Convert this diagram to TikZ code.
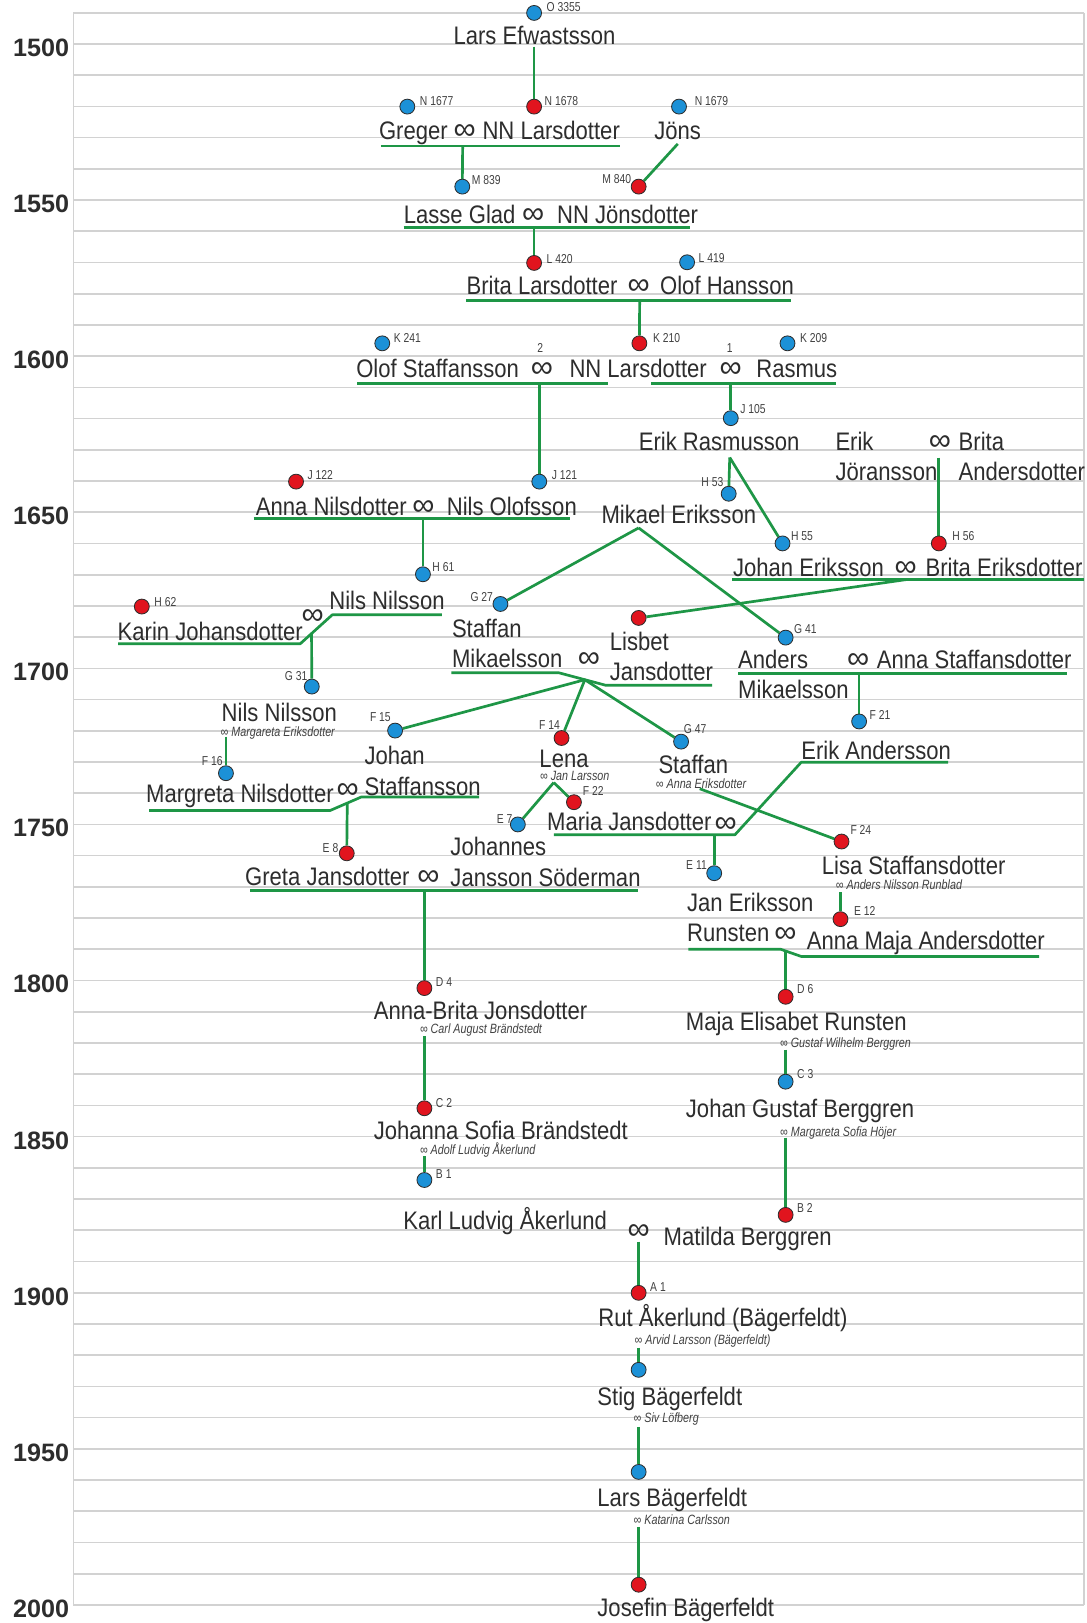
\documentclass[tikz,border=0pt]{standalone}
\usepackage{fontspec}
\setmainfont{Liberation Sans}
\newfontfamily\nmfont[FakeStretch=0.87]{Liberation Sans}
\newfontfamily\smfont[FakeStretch=0.8]{Liberation Sans}
\newfontfamily\symfont{Liberation Sans}
\usetikzlibrary{calc}
\pgfdeclarelayer{bg}
\pgfsetlayers{bg,main}
\definecolor{lnk}{RGB}{30,150,70}
\definecolor{pblue}{RGB}{28,145,215}
\definecolor{pred}{RGB}{225,20,30}
\definecolor{ink}{RGB}{45,45,45}
\definecolor{ink2}{RGB}{65,65,65}
\definecolor{gridc}{RGB}{210,210,210}
\tikzset{
  pname/.style={anchor=base west, inner sep=0pt, text=ink, font=\nmfont\fontsize{24.5}{28}\selectfont},
  pnote/.style={anchor=base west, inner sep=0pt, text=ink2, font=\smfont\itshape\fontsize{13}{15}\selectfont},
  ptag/.style={inner sep=0pt, text=ink2, font=\smfont\fontsize{12.5}{14}\selectfont},
  marr/.style={anchor=base, inner sep=0pt, text=ink, font=\symfont\fontsize{30}{32}\selectfont},
  yrlabel/.style={anchor=base east, inner sep=0pt, text=ink, font=\bfseries\fontsize{24.3}{28}\selectfont},
  pdot/.style={circle, draw=ink, line width=0.8pt, minimum size=14.4pt, inner sep=0pt},
  boy/.style={pdot, fill=pblue},
  girl/.style={pdot, fill=pred},
  descent/.style={draw=lnk, line width=2.6pt, line join=round},
  gridl/.style={draw=gridc, line width=1.6pt},
}
\begin{document}
\begin{tikzpicture}[x=1pt, y=-1pt]
\useasboundingbox (0,0) rectangle (1050,1568);

% year labels
\foreach \Y in {1500,1550,...,2000}
  \node[yrlabel] (yr\Y) at (67,{42.5+3.016*(\Y-1500)+12}) {\Y};

% persons
\node[boy]  (O3355) at (516,12.5) {};
\node[boy]  (N1677) at (393.5,103) {};
\node[girl] (N1678) at (516,103) {};
\node[boy]  (N1679) at (656,103) {};
\node[boy]  (M839) at (446.6,180.3) {};
\node[girl] (M840) at (617,180.3) {};
\node[girl] (L420) at (516,254) {};
\node[boy]  (L419) at (663.8,253.4) {};
\node[boy]  (K241) at (369.3,331.7) {};
\node[girl] (K210) at (617.7,331.7) {};
\node[boy]  (K209) at (760.8,331.7) {};
\node[boy]  (J105) at (706,404) {};
\node[girl] (J122) at (286,465.3) {};
\node[boy]  (J121) at (521,465.3) {};
\node[boy]  (H53) at (704,477) {};
\node[boy]  (H55) at (756,525) {};
\node[girl] (H56) at (907,525) {};
\node[boy]  (H61) at (408.6,554.8) {};
\node[girl] (H62) at (137,586) {};
\node[boy]  (G27) at (483.5,583.5) {};
\node[girl] (LIS) at (617,597) {};
\node[boy]  (G41) at (759,616) {};
\node[boy]  (G31) at (301.2,663.3) {};
\node[boy]  (F21) at (830,697) {};
\node[boy]  (F15) at (381.7,705.8) {};
\node[girl] (F14) at (542.5,713) {};
\node[boy]  (G47) at (658,716.5) {};
\node[boy]  (F16) at (218.3,747) {};
\node[girl] (F22) at (554.5,775) {};
\node[boy]  (E7) at (500.3,796.5) {};
\node[girl] (F24) at (813,813) {};
\node[girl] (E8) at (335,824.4) {};
\node[boy]  (E11) at (690,843.6) {};
\node[girl] (E12) at (812,888) {};
\node[girl] (D4) at (410,954.6) {};
\node[girl] (D6) at (759,963) {};
\node[boy]  (C3) at (759,1045) {};
\node[girl] (C2) at (410,1070.7) {};
\node[boy]  (B1) at (410,1140) {};
\node[girl] (B2) at (759,1173.7) {};
\node[girl] (A1) at (617,1249) {};
\node[boy]  (S1) at (617,1323.4) {};
\node[boy]  (S2) at (617,1422) {};
\node[girl] (S3) at (617,1531) {};

% junction points of the descent lines
\coordinate (j0) at (516,45);
\coordinate (u1a) at (368,141);   \coordinate (u1b) at (599,141);   \coordinate (j1) at (447,141);
\coordinate (j1b) at (654.8,139);
\coordinate (u2a) at (390,220);   \coordinate (u2b) at (666.5,220); \coordinate (j2) at (516,220);
\coordinate (u3a) at (450.6,290.5); \coordinate (u3b) at (764,290.5); \coordinate (j3) at (618,290.5);
\coordinate (u4a) at (345,370.5); \coordinate (u4b) at (587,370.5); \coordinate (j4) at (521,370.5);
\coordinate (u5a) at (629,370.5); \coordinate (u5b) at (808,370.5); \coordinate (j5) at (706,370.5);
\coordinate (j6) at (705,442);
\coordinate (j7) at (907,442);
\coordinate (u8a) at (245,500.7); \coordinate (u8b) at (551,500.7); \coordinate (j8) at (408.6,500.7);
\coordinate (j9) at (617,510);
\coordinate (u10a) at (707.6,560); \coordinate (u10b) at (1047,560); \coordinate (j10) at (875,560);
\coordinate (u11a) at (114,622); \coordinate (u11b) at (290,622); \coordinate (u11c) at (321,594); \coordinate (u11d) at (427,594); \coordinate (j11) at (301,612);
\coordinate (u12a) at (436,650); \coordinate (u12b) at (540,650); \coordinate (u12c) at (585,662); \coordinate (u12d) at (688,662); \coordinate (j12) at (565,656.7);
\coordinate (u13a) at (713,650.5); \coordinate (u13b) at (1031,650.5); \coordinate (j13) at (830,650.5);
\coordinate (j14) at (218.3,711.6);
\coordinate (u15a) at (144,783); \coordinate (u15b) at (319,783); \coordinate (u15c) at (349,770); \coordinate (u15d) at (463,770); \coordinate (j15) at (335.5,775.9);
\coordinate (j16) at (535,756);
\coordinate (j17) at (676,762);
\coordinate (u18a) at (535,806.5); \coordinate (u18b) at (710,806.5); \coordinate (u18c) at (774,736.5); \coordinate (u18d) at (916,736.5); \coordinate (j18) at (690,806.5);
\coordinate (u19a) at (241.7,860); \coordinate (u19b) at (616,860); \coordinate (j19) at (410,860);
\coordinate (j20) at (812,862);
\coordinate (u21a) at (665,917); \coordinate (u21b) at (754,917); \coordinate (u21c) at (774,924); \coordinate (u21d) at (1004,924); \coordinate (j21) at (759,918.8);
\coordinate (j22) at (410,1001);
\coordinate (j23) at (759,1014);
\coordinate (j24) at (759,1099);
\coordinate (j25) at (410,1117);
\coordinate (j26) at (617,1199.5);
\coordinate (j27) at (617,1302);
\coordinate (j28) at (617,1378.5);
\coordinate (j29) at (617,1475);

\begin{pgfonlayer}{bg}
% white page and time grid, one line per decade
\fill[white] (0,0) rectangle (1050,1568);
\foreach \k in {0,...,51}
  \draw[gridl] (71,12.34+30.16*\k) -- (1047,12.34+30.16*\k);
\draw[gridl] (71,12.34) -- (71,1550.5);
\draw[gridl] (1047,12.34) -- (1047,1550.5);
% descent lines
\path[descent] (j0) -- (N1678);
\path[descent] (u1a) -- (u1b);  \path[descent] (j1) -- (M839);
\path[descent] (j1b) -- (M840);
\path[descent] (u2a) -- (u2b);  \path[descent] (j2) -- (L420);
\path[descent] (u3a) -- (u3b);  \path[descent] (j3) -- (K210);
\path[descent] (u4a) -- (u4b);  \path[descent] (j4) -- (J121);
\path[descent] (u5a) -- (u5b);  \path[descent] (j5) -- (J105);
\path[descent] (j6) -- (H53);   \path[descent] (j6) -- (H55);
\path[descent] (j7) -- (H56);
\path[descent] (u8a) -- (u8b);  \path[descent] (j8) -- (H61);
\path[descent] (j9) -- (G27);   \path[descent] (j9) -- (G41);
\path[descent] (u10a) -- (u10b); \path[descent] (j10) -- (LIS);
\path[descent] (u11a) -- (u11b) -- (u11c) -- (u11d); \path[descent] (j11) -- (G31);
\path[descent] (u12a) -- (u12b) -- (u12c) -- (u12d);
\path[descent] (j12) -- (F15); \path[descent] (j12) -- (F14); \path[descent] (j12) -- (G47);
\path[descent] (u13a) -- (u13b); \path[descent] (j13) -- (F21);
\path[descent] (j14) -- (F16);
\path[descent] (u15a) -- (u15b) -- (u15c) -- (u15d); \path[descent] (j15) -- (E8);
\path[descent] (j16) -- (F22);  \path[descent] (j16) -- (E7);
\path[descent] (j17) -- (F24);
\path[descent] (u18a) -- (u18b) -- (u18c) -- (u18d); \path[descent] (j18) -- (E11);
\path[descent] (u19a) -- (u19b); \path[descent] (j19) -- (D4);
\path[descent] (j20) -- (E12);
\path[descent] (u21a) -- (u21b) -- (u21c) -- (u21d); \path[descent] (j21) -- (D6);
\path[descent] (j22) -- (C2);
\path[descent] (j23) -- (C3);
\path[descent] (j24) -- (B2);
\path[descent] (j25) -- (B1);
\path[descent] (j26) -- (A1);
\path[descent] (j27) -- (S1);
\path[descent] (j28) -- (S2);
\path[descent] (j29) -- (S3);
\end{pgfonlayer}

% reference numbers
\node[ptag,anchor=west] (tO3355) at ($(O3355)+(12,-6)$) {O 3355};
\node[ptag,anchor=west] (tN1677) at ($(N1677)+(12,-5)$) {N 1677};
\node[ptag,anchor=west] (tN1678) at ($(N1678)+(10,-5)$) {N 1678};
\node[ptag,anchor=west] (tN1679) at ($(N1679)+(15,-5)$) {N 1679};
\node[ptag,anchor=west] (tM839) at ($(M839)+(9,-6)$) {M 839};
\node[ptag,anchor=east] (tM840) at ($(M840)+(-7,-7.5)$) {M 840};
\node[ptag,anchor=west] (tL420) at ($(L420)+(12,-4)$) {L 420};
\node[ptag,anchor=west] (tL419) at ($(L419)+(11,-4)$) {L 419};
\node[ptag,anchor=west] (tK241) at ($(K241)+(11,-5)$) {K 241};
\node[ptag,anchor=west] (tK210) at ($(K210)+(13,-5)$) {K 210};
\node[ptag,anchor=west] (tK209) at ($(K209)+(12,-5)$) {K 209};
\node[ptag,anchor=west] (tJ105) at ($(J105)+(9,-9)$) {J 105};
\node[ptag,anchor=west] (tJ122) at ($(J122)+(11,-6)$) {J 122};
\node[ptag,anchor=west] (tJ121) at ($(J121)+(12,-6)$) {J 121};
\node[ptag,anchor=east] (tH53) at ($(H53)+(-5,-11)$) {H 53};
\node[ptag,anchor=west] (tH55) at ($(H55)+(8,-7)$) {H 55};
\node[ptag,anchor=west] (tH56) at ($(H56)+(13,-7)$) {H 56};
\node[ptag,anchor=west] (tH61) at ($(H61)+(9,-7)$) {H 61};
\node[ptag,anchor=west] (tH62) at ($(H62)+(12,-4)$) {H 62};
\node[ptag,anchor=east] (tG27) at ($(G27)+(-7,-6.5)$) {G 27};
\node[ptag,anchor=west] (tG41) at ($(G41)+(8,-8)$) {G 41};
\node[ptag,anchor=east] (tG31) at ($(G31)+(-4,-10)$) {G 31};
\node[ptag,anchor=west] (tF21) at ($(F21)+(10,-6)$) {F 21};
\node[ptag,anchor=east] (tF15) at ($(F15)+(-4,-13)$) {F 15};
\node[ptag,anchor=east] (tF14) at ($(F14)+(-1.5,-13)$) {F 14};
\node[ptag,anchor=west] (tG47) at ($(G47)+(2.5,-12.5)$) {G 47};
\node[ptag,anchor=east] (tF16) at ($(F16)+(-3,-12)$) {F 16};
\node[ptag,anchor=west] (tF22) at ($(F22)+(8.5,-11)$) {F 22};
\node[ptag,anchor=east] (tE7) at ($(E7)+(-5,-5)$) {E 7};
\node[ptag,anchor=west] (tF24) at ($(F24)+(8.5,-11)$) {F 24};
\node[ptag,anchor=east] (tE8) at ($(E8)+(-8,-5)$) {E 8};
\node[ptag,anchor=east] (tE11) at ($(E11)+(-7,-8)$) {E 11};
\node[ptag,anchor=west] (tE12) at ($(E12)+(13,-8)$) {E 12};
\node[ptag,anchor=west] (tD4) at ($(D4)+(11,-6)$) {D 4};
\node[ptag,anchor=west] (tD6) at ($(D6)+(11,-7)$) {D 6};
\node[ptag,anchor=west] (tC3) at ($(C3)+(11,-7)$) {C 3};
\node[ptag,anchor=west] (tC2) at ($(C2)+(11,-5)$) {C 2};
\node[ptag,anchor=west] (tB1) at ($(B1)+(11,-6)$) {B 1};
\node[ptag,anchor=west] (tB2) at ($(B2)+(11,-6.5)$) {B 2};
\node[ptag,anchor=west] (tA1) at ($(A1)+(11,-6)$) {A 1};

% names
\node[pname] (nLars) at (438,43.3) {Lars Efwastsson};
\node[pname] (nGreger) at (366,135) {Greger};
\node[marr] (mGreger) at (449,135) {∞};
\node[pname] (nNNL1) at (466,135) {NN Larsdotter};
\node[pname] (nJons) at (632,135) {Jöns};
\node[pname] (nLasse) at (390,215.5) {Lasse Glad};
\node[marr] (mLasse) at (515,215.5) {∞};
\node[pname] (nNNJ) at (538,215.5) {NN Jönsdotter};
\node[pname] (nBritaL) at (450.6,285) {Brita Larsdotter};
\node[marr] (mBrita) at (617,285) {∞};
\node[pname] (nOlofH) at (637.6,285) {Olof Hansson};
\node[pname] (nOlofS) at (344,364.5) {Olof Staffansson};
\node[marr] (mOlof) at (523.5,364.5) {∞};
\node[ptag] (s2) at (522,336) {2};
\node[pname] (nNNL2) at (550,364.5) {NN Larsdotter};
\node[marr] (mRasm) at (706,364.5) {∞};
\node[ptag] (s1) at (705,336) {1};
\node[pname] (nRasmus) at (730.5,364.5) {Rasmus};
\node[pname] (nErikR) at (617,435.5) {Erik Rasmusson};
\node[pname] (nErikJ1) at (807,435.5) {Erik};
\node[marr] (mErikJ) at (908,435.5) {∞};
\node[pname] (nBritaA1) at (926,435.5) {Brita};
\node[pname] (nErikJ2) at (807,464.5) {Jöransson};
\node[pname] (nBritaA2) at (926,464.5) {Andersdotter};
\node[pname] (nAnnaN) at (247,498) {Anna Nilsdotter};
\node[marr] (mAnnaN) at (409,498) {∞};
\node[pname] (nNilsO) at (431.5,498) {Nils Olofsson};
\node[pname] (nMikael) at (581,506) {Mikael Eriksson};
\node[pname] (nJohanE) at (708,557) {Johan Eriksson};
\node[marr] (mJohanE) at (875,557) {∞};
\node[pname] (nBritaE) at (894,557) {Brita Eriksdotter};
\node[pname] (nNilsN1) at (318,588.5) {Nils Nilsson};
\node[marr] (mKarin) at (302,603) {∞};
\node[pname] (nKarin) at (113.5,619) {Karin Johansdotter};
\node[pname] (nStaffM1) at (436.5,615.5) {Staffan};
\node[pname] (nStaffM2) at (436.5,645) {Mikaelsson};
\node[marr] (mStaffM) at (569,645) {∞};
\node[pname] (nLisbet1) at (589,628.5) {Lisbet};
\node[pname] (nLisbet2) at (589,657.5) {Jansdotter};
\node[pname] (nAnders1) at (713,646) {Anders};
\node[pname] (nAnders2) at (713,675) {Mikaelsson};
\node[marr] (mAnders) at (829,646) {∞};
\node[pname] (nAnnaS) at (847,646) {Anna Staffansdotter};
\node[pname] (nNilsN2) at (214,697) {Nils Nilsson};
\node[pnote] (oNilsN2) at (213,711.5) {∞ Margareta Eriksdotter};
\node[pname] (nJohanS1) at (352,738.5) {Johan};
\node[pname] (nJohanS2) at (352,768.5) {Staffansson};
\node[pname] (nMargreta) at (141,775) {Margreta Nilsdotter};
\node[marr] (mMargreta) at (335.8,771) {∞};
\node[pname] (nLena) at (521,741.5) {Lena};
\node[pnote] (oLena) at (521.6,754.5) {∞ Jan Larsson};
\node[pname] (nStaffan) at (636,747.5) {Staffan};
\node[pnote] (oStaffan) at (633.5,761.3) {∞ Anna Eriksdotter};
\node[pname] (nErikA) at (774,734) {Erik Andersson};
\node[pname] (nJohannes1) at (435,826.5) {Johannes};
\node[pname] (nJohannes2) at (435,856.5) {Jansson Söderman};
\node[pname] (nMaria) at (528.4,802.5) {Maria Jansdotter};
\node[marr] (mMaria) at (701,804) {∞};
\node[pname] (nGreta) at (236.7,855.5) {Greta Jansdotter};
\node[marr] (mGreta) at (414,855.5) {∞};
\node[pname] (nLisa) at (793.8,844.5) {Lisa Staffansdotter};
\node[pnote] (oLisa) at (807.4,859.5) {∞ Anders Nilsson Runblad};
\node[pname] (nJanE1) at (663.7,881) {Jan Eriksson};
\node[pname] (nJanE2) at (663.7,910) {Runsten};
\node[marr] (mJanE) at (758.7,910.5) {∞};
\node[pname] (nAnnaM) at (779.4,917) {Anna Maja Andersdotter};
\node[pname] (nAnnaB) at (361,984.5) {Anna-Brita Jonsdotter};
\node[pnote] (oAnnaB) at (405.6,998.7) {∞ Carl August Brändstedt};
\node[pname] (nMajaE) at (662.5,996) {Maja Elisabet Runsten};
\node[pnote] (oMajaE) at (753.5,1012.4) {∞ Gustaf Wilhelm Berggren};
\node[pname] (nJohanG) at (662.5,1079.5) {Johan Gustaf Berggren};
\node[pnote] (oJohanG) at (753.5,1097.7) {∞ Margareta Sofia Höjer};
\node[pname] (nJohanna) at (361,1100.5) {Johanna Sofia Brändstedt};
\node[pnote] (oJohanna) at (405.6,1115.5) {∞ Adolf Ludvig Åkerlund};
\node[pname] (nKarl) at (389.5,1188) {Karl Ludvig Åkerlund};
\node[marr] (mKarl) at (617,1197.5) {∞};
\node[pname] (nMatilda) at (641,1203.5) {Matilda Berggren};
\node[pname] (nRut) at (578,1282) {Rut Åkerlund (Bägerfeldt)};
\node[pnote] (oRut) at (613,1299.2) {∞ Arvid Larsson (Bägerfeldt)};
\node[pname] (nStig) at (577,1357.5) {Stig Bägerfeldt};
\node[pnote] (oStig) at (612,1374.7) {∞ Siv Löfberg};
\node[pname] (nLarsB) at (577,1455.5) {Lars Bägerfeldt};
\node[pnote] (oLarsB) at (612,1472.7) {∞ Katarina Carlsson};
\node[pname] (nJosefin) at (577,1562) {Josefin Bägerfeldt};
\end{tikzpicture}
\end{document}
